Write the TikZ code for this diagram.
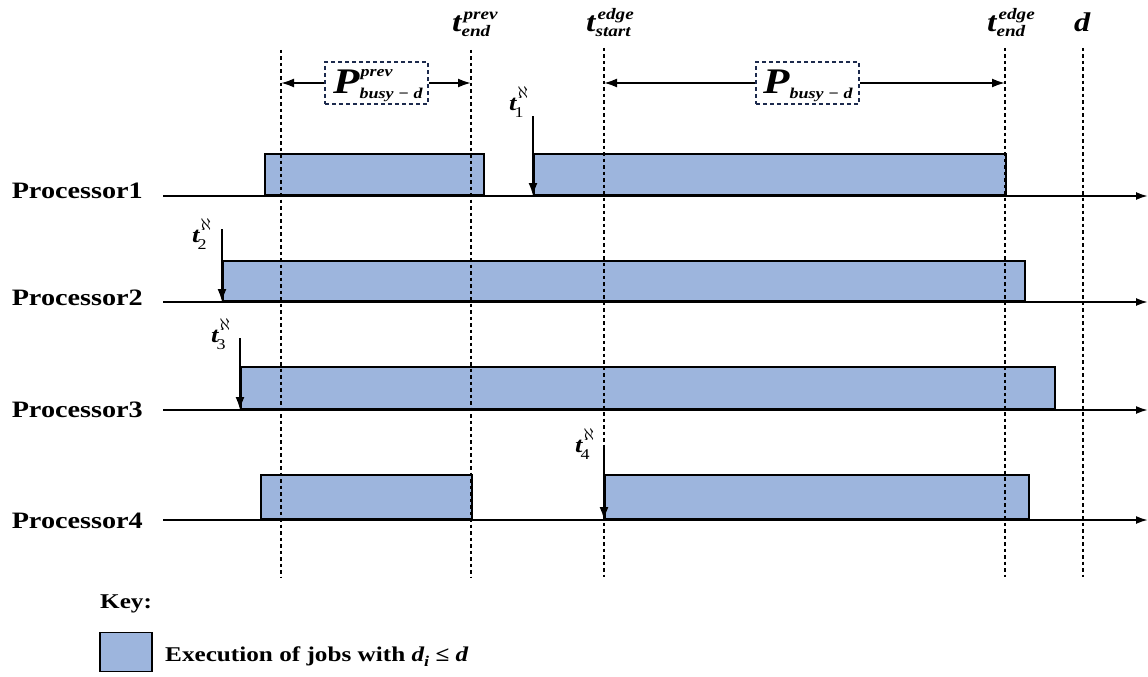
\documentclass[tikz,border=0pt]{standalone}
\usepackage{fontspec}
\setmainfont{Liberation Serif}[FakeStretch=1.2]
\usetikzlibrary{arrows.meta}
\definecolor{jobblue}{HTML}{9DB5DD}
\definecolor{navy}{HTML}{1C2A4D}
\newcommand{\bi}[1]{{\bfseries\itshape #1}}
% #1 base, #2 sup, #3 sub, #4 script size, #5 sup raise, #6 sub lower, #7 sup kern, #8 sub kern
\newcommand{\SupSub}[8]{#1{\fontsize{#4}{#4}\selectfont\kern#8\makebox[0pt][l]{\kern\dimexpr#7-#8\relax\raisebox{#5}{#2}}\raisebox{-#6}{#3}}}
\newcommand{\tlab}[2]{\SupSub{\bi{t}}{\bi{#1}}{\bi{#2}}{16pt}{12pt}{5pt}{2pt}{0pt}}
\newcommand{\tal}[1]{\SupSub{\bi{t}}{{\fontsize{19}{19}\selectfont$\aleph$}}{#1}{15pt}{12pt}{7pt}{1pt}{-2pt}}
\begin{document}
\begin{tikzpicture}[x=1pt,y=-1pt,
  axis/.style={line width=2pt,-{Latex[length=12pt,width=8pt]}},
  job/.style={draw=black,fill=jobblue,line width=1.8pt,inner sep=0pt,anchor=south west},
  vline/.style={line width=2.8pt,dash pattern=on 3.5pt off 3pt},
  rel/.style={line width=2pt,-{Latex[length=13pt,width=9pt]}},
  pbox/.style={draw=navy,line width=2pt,dash pattern=on 4pt off 3pt,inner sep=0pt,minimum width=103pt,minimum height=42pt},
  plab/.style={anchor=base east,inner sep=0pt,font=\fontsize{23.5}{25}\selectfont\bfseries},
  tlabel/.style={anchor=base west,inner sep=0pt,font=\fontsize{28}{30}\selectfont},
  alab/.style={anchor=base west,inner sep=0pt,font=\fontsize{22}{24}\selectfont}]
\useasboundingbox (0,0) rectangle (1148,677);
% axes
\foreach \i/\y/\b in {1/196/198,2/302/305,3/410/417,4/520/528}{
  \coordinate (ax\i s) at (163,\y);
  \coordinate (ax\i e) at (1148,\y);
  \draw[axis] (ax\i s) -- (ax\i e);
  \node[plab] (lab\i) at (143,\b) {Processor\i};
}
% jobs
\node[job,minimum width=219pt,minimum height=41pt] (j11) at (264,196) {};
\node[job,minimum width=472pt,minimum height=41pt] (j12) at (533,196) {};
\node[job,minimum width=802pt,minimum height=40pt] (j2) at (222,302) {};
\node[job,minimum width=814pt,minimum height=42pt] (j3) at (240,410) {};
\node[job,minimum width=211pt,minimum height=44pt] (j41) at (260,520) {};
\node[job,minimum width=424pt,minimum height=44pt] (j42) at (604,520) {};
% dotted verticals
\foreach \n/\x/\t in {a/281/50,b/471/50,c/604/48,e/1005/48,f/1083/48}{
  \coordinate (\n top) at (\x,\t);
  \coordinate (\n bot) at (\x,577);
  \draw[vline] (\n top) -- (\n bot);
}
% release arrows
\coordinate (r1) at (533,116);
\coordinate (r2) at (222,229);
\coordinate (r3) at (240,338);
\coordinate (r4) at (604,447);
\draw[rel] (r1) -- (j12.south west);
\draw[rel] (r2) -- (j2.south west);
\draw[rel] (r3) -- (j3.south west);
\draw[rel] (r4) -- (j42.south west);
\node[alab] (t1) at (509,110) {\tal{1}};
\node[alab] (t2) at (192,242) {\tal{2}};
\node[alab] (t3) at (211,342) {\tal{3}};
\node[alab] (t4) at (575,452) {\tal{4}};
% top labels
\node[tlabel] (tprev) at (452,32) {\tlab{prev}{end}};
\node[tlabel] (tstart) at (586,32) {\tlab{edge}{start}};
\node[tlabel] (tend) at (987,32) {\tlab{edge}{end}};
\node[anchor=base west,inner sep=0pt,font=\fontsize{27}{29}\selectfont] (dl) at (1074,32) {\bi{d}};
% P boxes
\node[pbox] (pprev) at (376.5,83) {};
\node[anchor=base west,inner sep=0pt,font=\fontsize{36}{38}\selectfont] (pprevt) at (333,93)
  {\SupSub{\bi{P}}{\bi{prev}}{\bi{busy − d}}{15pt}{17pt}{5pt}{1pt}{0pt}};
\node[pbox] (pb) at (807.5,83) {};
\node[anchor=base west,inner sep=0pt,font=\fontsize{36}{38}\selectfont] (pbt) at (763,93)
  {\SupSub{\bi{P}}{}{\bi{busy − d}}{15pt}{17pt}{5pt}{0pt}{0pt}};
\coordinate (aL) at (atop |- pprev.west);
\coordinate (bR) at (btop |- pprev.east);
\coordinate (cL) at (ctop |- pb.west);
\coordinate (eR) at (etop |- pb.east);
\draw[rel] (pprev.west) -- (aL);
\draw[rel] (pprev.east) -- (bR);
\draw[rel] (pb.west) -- (cL);
\draw[rel] (pb.east) -- (eR);
% key
\node[anchor=base west,inner sep=0pt,font=\fontsize{21}{23}\selectfont\bfseries] (key) at (100,608) {Key:};
\node[draw=black,fill=jobblue,line width=1.2pt,minimum width=52pt,minimum height=39pt,inner sep=0pt] (ksq) at (126,652) {};
\node[anchor=base west,inner sep=0pt,font=\fontsize{21}{23}\selectfont\bfseries] (ktext) at (165,661)
  {Execution of jobs with \SupSub{\bi{d}}{}{\bi{i}}{15pt}{0pt}{5pt}{0pt}{0pt} ≤ \bi{d}};
\end{tikzpicture}
\end{document}
